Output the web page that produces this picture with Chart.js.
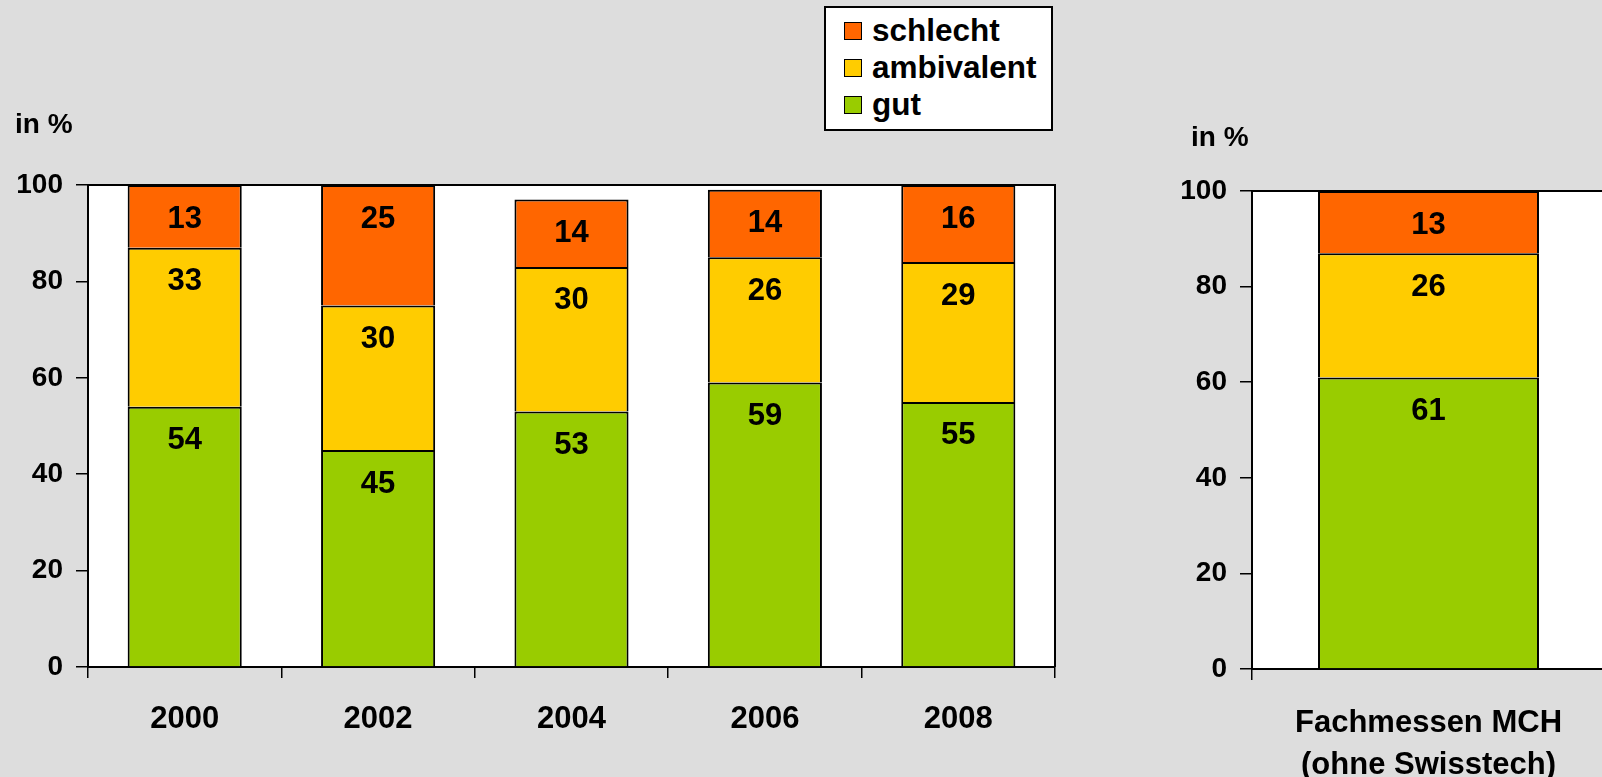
<!DOCTYPE html>
<html>
<head>
<meta charset="utf-8">
<script src="https://cdn.jsdelivr.net/npm/chart.js@4/dist/chart.umd.min.js"></script>
<style>
  html, body { margin: 0; padding: 0; background: #dddddd; overflow: hidden; width: 1602px; height: 777px; }
  #leftChart { position: absolute; left: 0; top: 0; }
  #rightChart { position: absolute; left: 1120px; top: 0; }
  #legend {
    position: absolute; left: 824px; top: 6px; width: 225px; height: 117px;
    background: #fff; border: 2px solid #000;
    font: bold 31.5px "Liberation Sans", Arial, sans-serif; color: #000;
    padding-top: 4px; box-sizing: content-box;
  }
  .item { height: 37px; display: flex; align-items: center; padding-left: 18px; }
  .swatch { width: 16px; height: 16px; border: 1.5px solid #000; margin-right: 10px; }
</style>
</head>
<body>
<canvas id="leftChart" width="1100" height="777"></canvas>
<canvas id="rightChart" width="500" height="777"></canvas>
<div id="legend"></div>
<script>
// categories
const years = ['2000', '2002', '2004', '2006', '2008'];
const mchLabels = [['Fachmessen MCH', '(ohne Swisstech)']];

// series values (in %)
const gut = [54, 45, 53, 59, 55];
const ambivalent = [33, 30, 30, 26, 29];
const schlecht = [13, 25, 14, 14, 16];

const mchGut = [61];
const mchAmbivalent = [26];
const mchSchlecht = [13];

const seriesNames = ['gut', 'ambivalent', 'schlecht'];
const seriesColors = ['#99cc00', '#ffcc00', '#ff6600'];

const FONT = '"Liberation Sans", Arial, sans-serif';

// white plot area + frame, "in %" caption, value labels
const plotFrame = {
    id: 'plotFrame',
    beforeDraw(chart) {
        const a = chart.chartArea;
        const ctx = chart.ctx;
        ctx.save();
        ctx.fillStyle = '#ffffff';
        ctx.fillRect(a.left, a.top, a.right - a.left, a.bottom - a.top);
        ctx.restore();
    },
    afterDraw(chart, args, opts) {
        const a = chart.chartArea;
        const ctx = chart.ctx;
        ctx.save();
        ctx.strokeStyle = '#000';
        ctx.lineWidth = 2;
        ctx.beginPath();
        ctx.moveTo(a.left, a.top);
        ctx.lineTo(a.right, a.top);
        ctx.lineTo(a.right, a.bottom);
        ctx.stroke();
        // caption
        ctx.fillStyle = '#000';
        ctx.font = 'bold 28px ' + FONT;
        ctx.textBaseline = 'middle';
        ctx.textAlign = 'left';
        ctx.fillText('in %', opts.captionX, opts.captionY);
        ctx.restore();
    },
    afterDatasetsDraw(chart) {
        const ctx = chart.ctx;
        ctx.save();
        ctx.fillStyle = '#000';
        ctx.font = 'bold 31px ' + FONT;
        ctx.textAlign = 'center';
        ctx.textBaseline = 'middle';
        chart.data.datasets.forEach((ds, i) => {
            const meta = chart.getDatasetMeta(i);
            meta.data.forEach((bar, j) => {
                ctx.fillText(ds.data[j], bar.x, bar.y + 34);
            });
        });
        ctx.restore();
    }
};

function makeChart(canvasId, labels, values, barPct, pad, yWidth, xHeight, xPad, xLineHeight, caption) {
    return new Chart(document.getElementById(canvasId), {
        type: 'bar',
        data: {
            labels: labels,
            datasets: values.map((data, i) => ({
                label: seriesNames[i],
                data: data,
                backgroundColor: seriesColors[i],
                borderColor: '#000',
                borderWidth: 2,
                barPercentage: barPct,
                categoryPercentage: 1
            }))
        },
        options: {
            responsive: false,
            animation: false,
            devicePixelRatio: 1,
            layout: { padding: pad },
            plugins: {
                legend: { display: false },
                tooltip: { enabled: false },
                plotFrame: caption
            },
            scales: {
                x: {
                    stacked: true,
                    afterFit: (scale) => { scale.height = xHeight; },
                    border: { color: '#000', width: 2 },
                    grid: { drawOnChartArea: false, tickLength: 11, color: '#000', lineWidth: 1.5, offset: true },
                    ticks: {
                        color: '#000',
                        padding: xPad,
                        font: { family: FONT, size: 31, weight: 'bold', lineHeight: xLineHeight }
                    }
                },
                y: {
                    stacked: true,
                    min: 0,
                    max: 100,
                    afterFit: (scale) => { scale.width = yWidth; },
                    border: { color: '#000', width: 2 },
                    grid: { drawOnChartArea: false, tickLength: 12, color: '#000', lineWidth: 1.5 },
                    ticks: {
                        stepSize: 20,
                        color: '#000',
                        padding: 13,
                        font: { family: FONT, size: 28, weight: 'bold' }
                    }
                }
            }
        },
        plugins: [plotFrame]
    });
}

makeChart('leftChart', years, [gut, ambivalent, schlecht], 0.59,
    { top: 185, right: 45, left: 0, bottom: 0 }, 88, 110, 23, 1.22, { captionX: 15, captionY: 125 });

makeChart('rightChart', mchLabels, [mchGut, mchAmbivalent, mchSchlecht], 0.626,
    { top: 191, right: 15, left: 0, bottom: 0 }, 132, 108, 22, 1.36, { captionX: 71, captionY: 138 });

// legend, top entry first
const legend = document.getElementById('legend');
for (let i = seriesNames.length - 1; i >= 0; i--) {
    const item = document.createElement('div');
    item.className = 'item';
    const sw = document.createElement('div');
    sw.className = 'swatch';
    sw.style.background = seriesColors[i];
    item.appendChild(sw);
    item.appendChild(document.createTextNode(seriesNames[i]));
    legend.appendChild(item);
}
</script>
</body>
</html>
